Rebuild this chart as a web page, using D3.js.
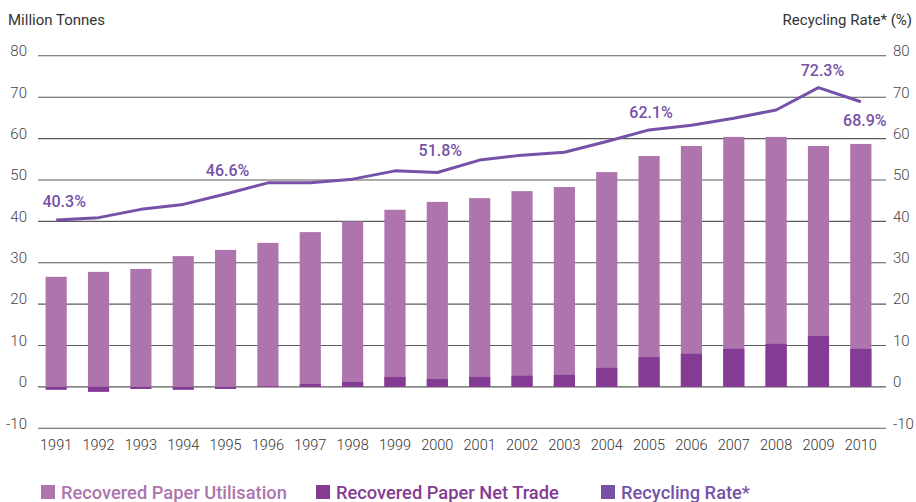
<!DOCTYPE html>
<html>
<head>
<meta charset="utf-8">
<script src="https://cdn.jsdelivr.net/npm/d3@7"></script>
<style>
	body { margin: 0; background: #fff; }
	svg { display: block; font-family: Roboto, 'Open Sans', sans-serif; }
</style>
</head>
<body>
<svg></svg>
<script>
const years = ['1991','1992','1993','1994','1995','1996','1997','1998','1999','2000',
	'2001','2002','2003','2004','2005','2006','2007','2008','2009','2010']
const utilisation = [26.6, 27.8, 28.5, 31.6, 33.1, 34.8, 37.4, 40.0, 42.8, 44.7,
	45.6, 47.3, 48.3, 51.9, 55.8, 58.2, 60.4, 60.4, 58.2, 58.7]
const netTrade = [-0.7, -1.2, -0.5, -0.7, -0.5, 0.2, 0.7, 1.2, 2.4, 1.9,
	2.4, 2.7, 2.9, 4.6, 7.2, 8.0, 9.2, 10.4, 12.3, 9.2]
const recyclingRate = [40.3, 40.9, 42.9, 44.1, 46.6, 49.3, 49.3, 50.2, 52.2, 51.8,
	54.8, 56.0, 56.7, 59.3, 62.1, 63.2, 64.9, 66.9, 72.3, 68.9]
const rateLabels = [
	{ year: '1991', text: '40.3%', dx: 8, dy: -13 },
	{ year: '1995', text: '46.6%', dx: 2, dy: -18 },
	{ year: '2000', text: '51.8%', dx: 3, dy: -17 },
	{ year: '2005', text: '62.1%', dx: 2, dy: -12 },
	{ year: '2009', text: '72.3%', dx: 4, dy: -12 },
	{ year: '2010', text: '68.9%', dx: 4, dy: 18 }
]
const yTicks = [-10, 0, 10, 20, 30, 40, 50, 60, 70, 80]
const legendItems = ['Recovered Paper Utilisation', 'Recovered Paper Net Trade', 'Recycling Rate*']

const width = 916, height = 502
const cLight = '#ad74ae', cDark = '#843b93', cLine = '#7552a7'

let svg = d3.select('svg')
	.attr('width', width)
	.attr('height', height)

let x = d3.scaleBand()
	.domain(years)
	.range([35, 882])
	.paddingInner(0.5)
	.paddingOuter(0.25)

let y = d3.scaleLinear()
	.domain([-10, 80])
	.range([428.3, 55.8])

// gridlines + left/right tick labels
let grid = svg.append('g')
grid.selectAll('line').data(yTicks).enter().append('line')
	.attr('x1', 38).attr('x2', 886)
	.attr('y1', d => y(d)).attr('y2', d => y(d))
	.attr('stroke', '#5a5a5a').attr('stroke-width', 1.1)

let axL = d3.axisLeft(y).tickValues(yTicks).tickFormat(d => String(d)).tickSize(0).tickPadding(0)
svg.append('g')
	.attr('transform', 'translate(27,-5)')
	.call(axL)
	.call(g => g.select('.domain').remove())
	.selectAll('text')
	.attr('font-size', 15).attr('fill', '#444').attr('font-family', 'Roboto').attr('font-weight', 300)

let axR = d3.axisRight(y).tickValues(yTicks).tickFormat(d => String(d)).tickSize(0).tickPadding(0)
svg.append('g')
	.attr('transform', 'translate(893,-5)')
	.call(axR)
	.call(g => g.select('.domain').remove())
	.selectAll('text')
	.attr('font-size', 15).attr('fill', '#444').attr('font-family', 'Roboto').attr('font-weight', 300)

// bars: utilisation from zero, net trade overlaid on top
svg.append('g').selectAll('rect').data(years).enter().append('rect')
	.attr('x', d => x(d))
	.attr('width', x.bandwidth())
	.attr('y', (d, i) => y(utilisation[i]))
	.attr('height', (d, i) => y(0) - y(utilisation[i]))
	.attr('fill', cLight)

svg.append('g').selectAll('rect').data(years).enter().append('rect')
	.attr('x', d => x(d))
	.attr('width', x.bandwidth())
	.attr('y', (d, i) => y(Math.max(0, netTrade[i])))
	.attr('height', (d, i) => Math.abs(y(netTrade[i]) - y(0)))
	.attr('fill', cDark)

// recycling rate line
let line = d3.line()
	.x((d, i) => x(years[i]) + x.bandwidth() / 2)
	.y(d => y(d))

svg.append('path')
	.datum(recyclingRate)
	.attr('d', line)
	.attr('fill', 'none')
	.attr('stroke', cLine)
	.attr('stroke-width', 3)
	.attr('stroke-linejoin', 'round')

svg.append('g').selectAll('text').data(rateLabels).enter().append('text')
	.attr('x', d => x(d.year) + x.bandwidth() / 2 + d.dx)
	.attr('y', d => y(recyclingRate[years.indexOf(d.year)]) + d.dy + (d.dy > 0 ? 6 : 0))
	.attr('text-anchor', 'middle')
	.attr('font-size', 16).attr('font-weight', 500)
	.attr('fill', cLine)
	.text(d => d.text)

// x labels
svg.append('g').selectAll('text').data(years).enter().append('text')
	.attr('x', d => x(d) + x.bandwidth() / 2)
	.attr('y', 450)
	.attr('text-anchor', 'middle')
	.attr('font-size', 14.5).attr('font-weight', 300)
	.attr('fill', '#333')
	.text(d => d)

// axis titles
svg.append('text')
	.attr('x', 8).attr('y', 25)
	.attr('font-size', 15).attr('fill', '#333')
	.text('Million Tonnes')

svg.append('text')
	.attr('x', 912).attr('y', 25)
	.attr('text-anchor', 'end')
	.attr('font-size', 15).attr('fill', '#333')
	.text('Recycling Rate*  (%)')

// legend
const legendX = [41, 316, 601]
const legendColors = [cLight, cDark, cLine]
let leg = svg.append('g').selectAll('g').data(legendItems).enter().append('g')
	.attr('transform', (d, i) => `translate(${legendX[i]}, 485)`)
leg.append('rect')
	.attr('width', 14).attr('height', 14)
	.attr('fill', (d, i) => legendColors[i])
leg.append('text')
	.attr('x', 20).attr('y', 13.5)
	.attr('font-size', 18.3).attr('font-weight', 500)
	.attr('fill', (d, i) => legendColors[i])
	.text(d => d)
</script>
</body>
</html>
